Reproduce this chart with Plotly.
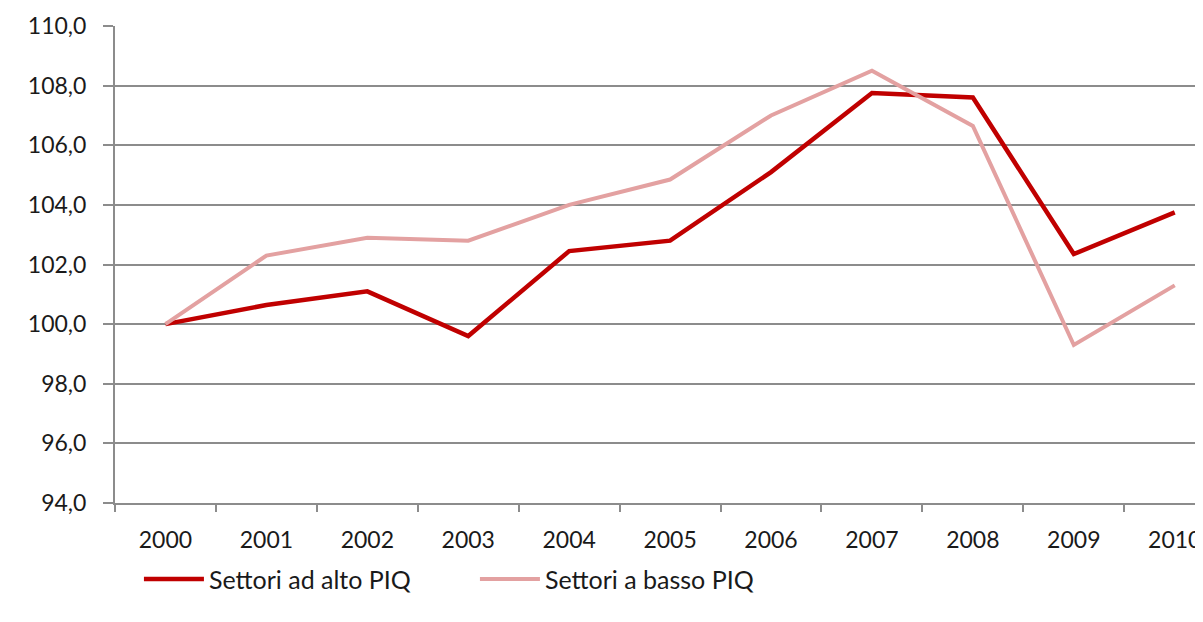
import plotly.graph_objects as go

years = ["2000", "2001", "2002", "2003", "2004", "2005", "2006", "2007", "2008", "2009", "2010"]
alto_piq = [100.0, 100.64, 101.1, 99.6, 102.45, 102.8, 105.1, 107.75, 107.6, 102.35, 103.75]
basso_piq = [100.0, 102.3, 102.9, 102.8, 104.0, 104.85, 107.0, 108.5, 106.65, 99.3, 101.3]

y_ticks = [94, 96, 98, 100, 102, 104, 106, 108, 110]

font_family = "Lato, 'Open Sans', sans-serif"

fig = go.Figure()
fig.add_trace(go.Scatter(
    x=years, y=alto_piq, mode="lines", name="Settori ad alto PIQ",
    line=dict(color="#C00000", width=4.5),
))
fig.add_trace(go.Scatter(
    x=years, y=basso_piq, mode="lines", name="Settori a basso PIQ",
    line=dict(color="#E3A1A1", width=4),
))

fig.update_layout(
    width=1195, height=606,
    margin=dict(l=107, r=0, t=18, b=111),
    paper_bgcolor="white", plot_bgcolor="white",
    separators=",.",
    font=dict(family=font_family, size=23, color="#1a1a1a"),
    showlegend=True,
    legend=dict(
        orientation="h", x=0.022, y=-0.16, xanchor="left", yanchor="middle",
        font=dict(size=25), itemwidth=60, entrywidthmode="pixels", entrywidth=261,
        bgcolor="rgba(0,0,0,0)",
    ),
    xaxis=dict(
        type="category", range=[-0.5, 10.28],
        tickson="boundaries", ticks="outside", ticklen=7, tickcolor="#8c8c8c", tickwidth=1.5,
        showgrid=False, showline=True, linecolor="#8c8c8c", linewidth=2,
        ticklabelstandoff=15, zeroline=False,
    ),
    yaxis=dict(
        range=[94, 110], tickvals=y_ticks, tickformat=".1f",
        showgrid=True, gridcolor="#8c8c8c", gridwidth=1.5,
        ticks="outside", ticklen=10, tickcolor="#8c8c8c", tickwidth=1.5,
        showline=True, linecolor="#8c8c8c", linewidth=2,
        ticklabelstandoff=12, zeroline=False,
    ),
)

fig.write_html("out.html")
